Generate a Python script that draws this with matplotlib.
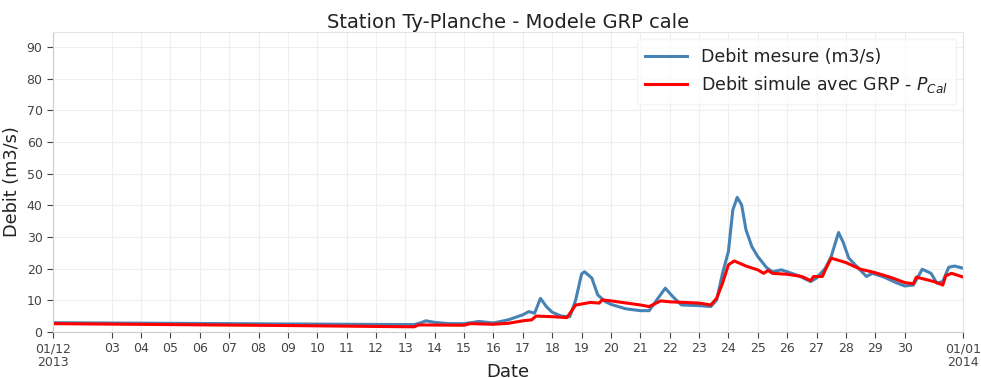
"""Station Ty-Planche: measured vs simulated discharge (GRP model)."""
import pandas as pd
import matplotlib
matplotlib.use("Agg")
import matplotlib.pyplot as plt

start = pd.Timestamp("2013-12-01")

# day of December (32 = 01/01/2014) and measured discharge (m3/s)
mes_day = [1, 3, 5, 7, 9, 11, 13.3, 13.5, 13.7, 14.0, 14.5, 15.0, 15.3, 15.5,
           15.8, 16.0, 16.5, 17.0, 17.2, 17.4, 17.6, 17.8, 18.0, 18.3, 18.6,
           18.8, 19.0, 19.1, 19.35, 19.55, 19.8, 20.0, 20.5, 21.0, 21.3, 21.6,
           21.85, 22.1, 22.4, 23.0, 23.4, 23.6, 23.8, 24.0, 24.15, 24.3, 24.45,
           24.6, 24.8, 25.0, 25.3, 25.5, 25.8, 26.0, 26.4, 26.8, 27.0, 27.3,
           27.5, 27.75, 27.9, 28.1, 28.4, 28.7, 28.9, 29.3, 29.7, 30.0, 30.3,
           30.6, 30.9, 31.1, 31.3, 31.5, 31.7, 32.0]
mes_val = [2.9, 2.8, 2.7, 2.6, 2.5, 2.4, 2.3, 2.8, 3.5, 3.0, 2.6, 2.6, 3.0, 3.3,
           3.0, 2.8, 3.8, 5.4, 6.4, 5.9, 10.6, 8.0, 6.2, 5.0, 4.8,
           10.1, 18.3, 19.0, 17.0, 11.7, 9.6, 8.7, 7.3, 6.7, 6.7, 10.6,
           13.8, 11.2, 8.5, 8.3, 8.0, 10.1, 18.5, 25.4, 38.5, 42.5, 40.1,
           32.2, 26.9, 23.8, 20.3, 19.0, 19.6, 19.0, 17.7, 15.9, 17.0, 20.1,
           23.8, 31.4, 28.5, 23.3, 20.4, 17.5, 18.5, 17.3, 15.6, 14.5, 14.8,
           19.8, 18.5, 15.4, 15.9, 20.4, 20.8, 20.1]

# simulated discharge with GRP
sim_day = [1, 5, 9, 13.3, 13.45, 15.0, 15.2, 16.0, 16.5, 17.0, 17.3, 17.45,
           18.0, 18.5, 18.8, 19.0, 19.3, 19.6, 19.7, 20.0, 21.0, 21.3, 21.7,
           22.0, 23.0, 23.4, 23.6, 23.8, 24.0, 24.2, 24.6, 25.0, 25.2, 25.35,
           25.5, 26.0, 26.5, 26.8, 26.9, 27.2, 27.3, 27.5, 28.0, 28.5, 29.0,
           29.5, 30.0, 30.3, 30.4, 31.0, 31.3, 31.4, 31.6, 32.0]
sim_val = [2.6, 2.3, 2.0, 1.6, 2.2, 2.1, 2.6, 2.4, 2.7, 3.5, 3.8, 5.0,
           4.8, 4.5, 8.5, 8.8, 9.3, 9.1, 10.1, 9.8, 8.5, 8.0, 9.8,
           9.5, 9.1, 8.5, 10.6, 15.4, 21.2, 22.4, 20.8, 19.6, 18.5, 19.4,
           18.5, 18.2, 17.5, 16.2, 17.5, 17.5, 19.6, 23.3, 21.9, 19.8, 18.7,
           17.3, 15.6, 15.2, 17.3, 15.9, 14.8, 17.7, 18.5, 17.3]

y_ticks = list(range(0, 100, 10))
tick_days = [1] + list(range(3, 31)) + [32]
tick_labels = ["01/12\n2013"] + ["%02d" % d for d in range(3, 31)] + ["01/01\n2014"]


def to_dates(days):
    return start + pd.to_timedelta([d - 1 for d in days], unit="D")


fig = plt.figure(figsize=(9.81, 3.78), dpi=100)
ax = fig.add_axes([0.054, 0.122, 0.928, 0.793])

ax.plot(to_dates(mes_day), mes_val, color="#4682b4", lw=2.2,
        label="Debit mesure (m3/s)")
ax.plot(to_dates(sim_day), sim_val, color="#ff0000", lw=2.2,
        label="Debit simule avec GRP - $P_{Cal}$")

ax.set_xlim(to_dates([1])[0], to_dates([32])[0])
ax.set_ylim(0, 94.7)
ax.set_yticks(y_ticks)
ax.set_xticks(to_dates(tick_days))
ax.set_xticklabels(tick_labels, linespacing=1.05)

ax.grid(True, color="#eeeeee", lw=0.8)
ax.set_axisbelow(True)
for sp in ax.spines.values():
    sp.set_color("#e4e4e4")
ax.spines["left"].set_color("#cccccc")
ax.spines["bottom"].set_color("#cccccc")
ax.tick_params(axis="both", colors="#444444", labelsize=9, length=4,
               direction="out")

ax.set_title("Station Ty-Planche - Modele GRP cale", fontsize=14,
             color="#222222", pad=3)
ax.set_ylabel("Debit (m3/s)", fontsize=12.8, color="#222222", labelpad=4)
# the x label sits at the lower edge, partly cut as in the original
ax.set_xlabel("Date", fontsize=13, color="#222222", labelpad=-4)

leg = ax.legend(loc="upper right", fontsize=12.5, frameon=True,
                handlelength=2.4, borderpad=0.5, fancybox=True,
                borderaxespad=0.4)
leg.get_frame().set_edgecolor("#f0f0f0")
leg.get_frame().set_facecolor("white")
for t in leg.get_texts():
    t.set_color("#222222")

fig.savefig("out.png", dpi=100)
